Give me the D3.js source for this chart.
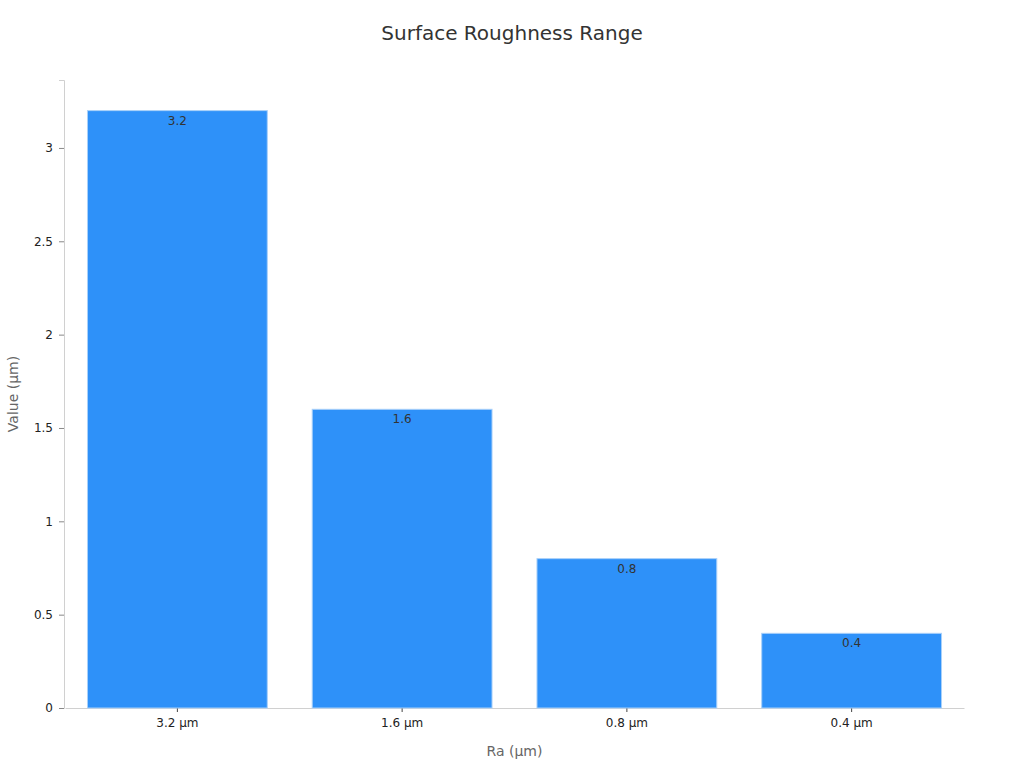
<!DOCTYPE html>
<html>
<head>
<meta charset="utf-8">
<script src="https://cdn.jsdelivr.net/npm/d3@7"></script>
<style>
  body { margin: 0; background: #fff; }
  svg, svg text { font-family: 'DejaVu Sans', sans-serif; }
</style>
</head>
<body>
<script>
const categories = ['3.2 µm', '1.6 µm', '0.8 µm', '0.4 µm'];
const values = [3.2, 1.6, 0.8, 0.4];
const yTicks = [0, 0.5, 1, 1.5, 2, 2.5, 3];

const width = 1024, height = 768;
const margin = {top: 80, right: 60, bottom: 60, left: 65};

const svg = d3.select('body').append('svg')
  .attr('width', width)
  .attr('height', height);

const x = d3.scaleBand()
  .domain(categories)
  .range([margin.left, width - margin.right])
  .paddingInner(0.2)
  .paddingOuter(0.1);

const y = d3.scaleLinear()
  .domain([0, 3.364])
  .range([height - margin.bottom, margin.top]);

// y axis
const yAxis = svg.append('g')
  .attr('transform', `translate(${margin.left - 1},0)`)
  .call(d3.axisLeft(y).tickValues(yTicks).tickSize(5).tickPadding(6).tickFormat(d3.format('')));
yAxis.attr('font-family', null);
yAxis.select('.domain').attr('stroke', '#d0d0d0');
yAxis.selectAll('.tick line').attr('stroke', '#888');
yAxis.selectAll('.tick text').attr('fill', '#222').style('font-size', '12px');

// x axis
const xAxis = svg.append('g')
  .attr('transform', `translate(0,${height - margin.bottom})`)
  .call(d3.axisBottom(x).tickSize(4).tickPadding(6).tickSizeOuter(0));
xAxis.attr('font-family', null);
xAxis.select('.domain').attr('stroke', '#d0d0d0');
xAxis.selectAll('.tick line').attr('stroke', '#444');
xAxis.selectAll('.tick text').attr('fill', '#222').style('font-size', '12px');

// bars
svg.append('g').selectAll('rect')
  .data(values)
  .join('rect')
  .attr('x', (d, i) => x(categories[i]))
  .attr('y', d => y(d))
  .attr('width', x.bandwidth())
  .attr('height', d => y(0) - y(d))
  .attr('fill', '#2e91f9')
  .attr('stroke', '#a9d0f9')
  .attr('stroke-width', 1);

// value labels
svg.append('g').selectAll('text')
  .data(values)
  .join('text')
  .attr('x', (d, i) => x(categories[i]) + x.bandwidth() / 2)
  .attr('y', d => y(d) + 14)
  .attr('text-anchor', 'middle')
  .attr('fill', '#333')
  .style('font-size', '12px')
  .text(d => d);

// title
svg.append('text')
  .attr('x', width / 2)
  .attr('y', 40)
  .attr('text-anchor', 'middle')
  .attr('fill', '#333')
  .style('font-size', '20px')
  .text('Surface Roughness Range');

// axis titles
svg.append('text')
  .attr('x', (margin.left + width - margin.right) / 2)
  .attr('y', 756)
  .attr('text-anchor', 'middle')
  .attr('fill', '#666')
  .style('font-size', '14px')
  .text('Ra (µm)');

svg.append('text')
  .attr('transform', `translate(18,${(margin.top + height - margin.bottom) / 2}) rotate(-90)`)
  .attr('text-anchor', 'middle')
  .attr('fill', '#666')
  .style('font-size', '14px')
  .text('Value (µm)');
</script>
</body>
</html>
